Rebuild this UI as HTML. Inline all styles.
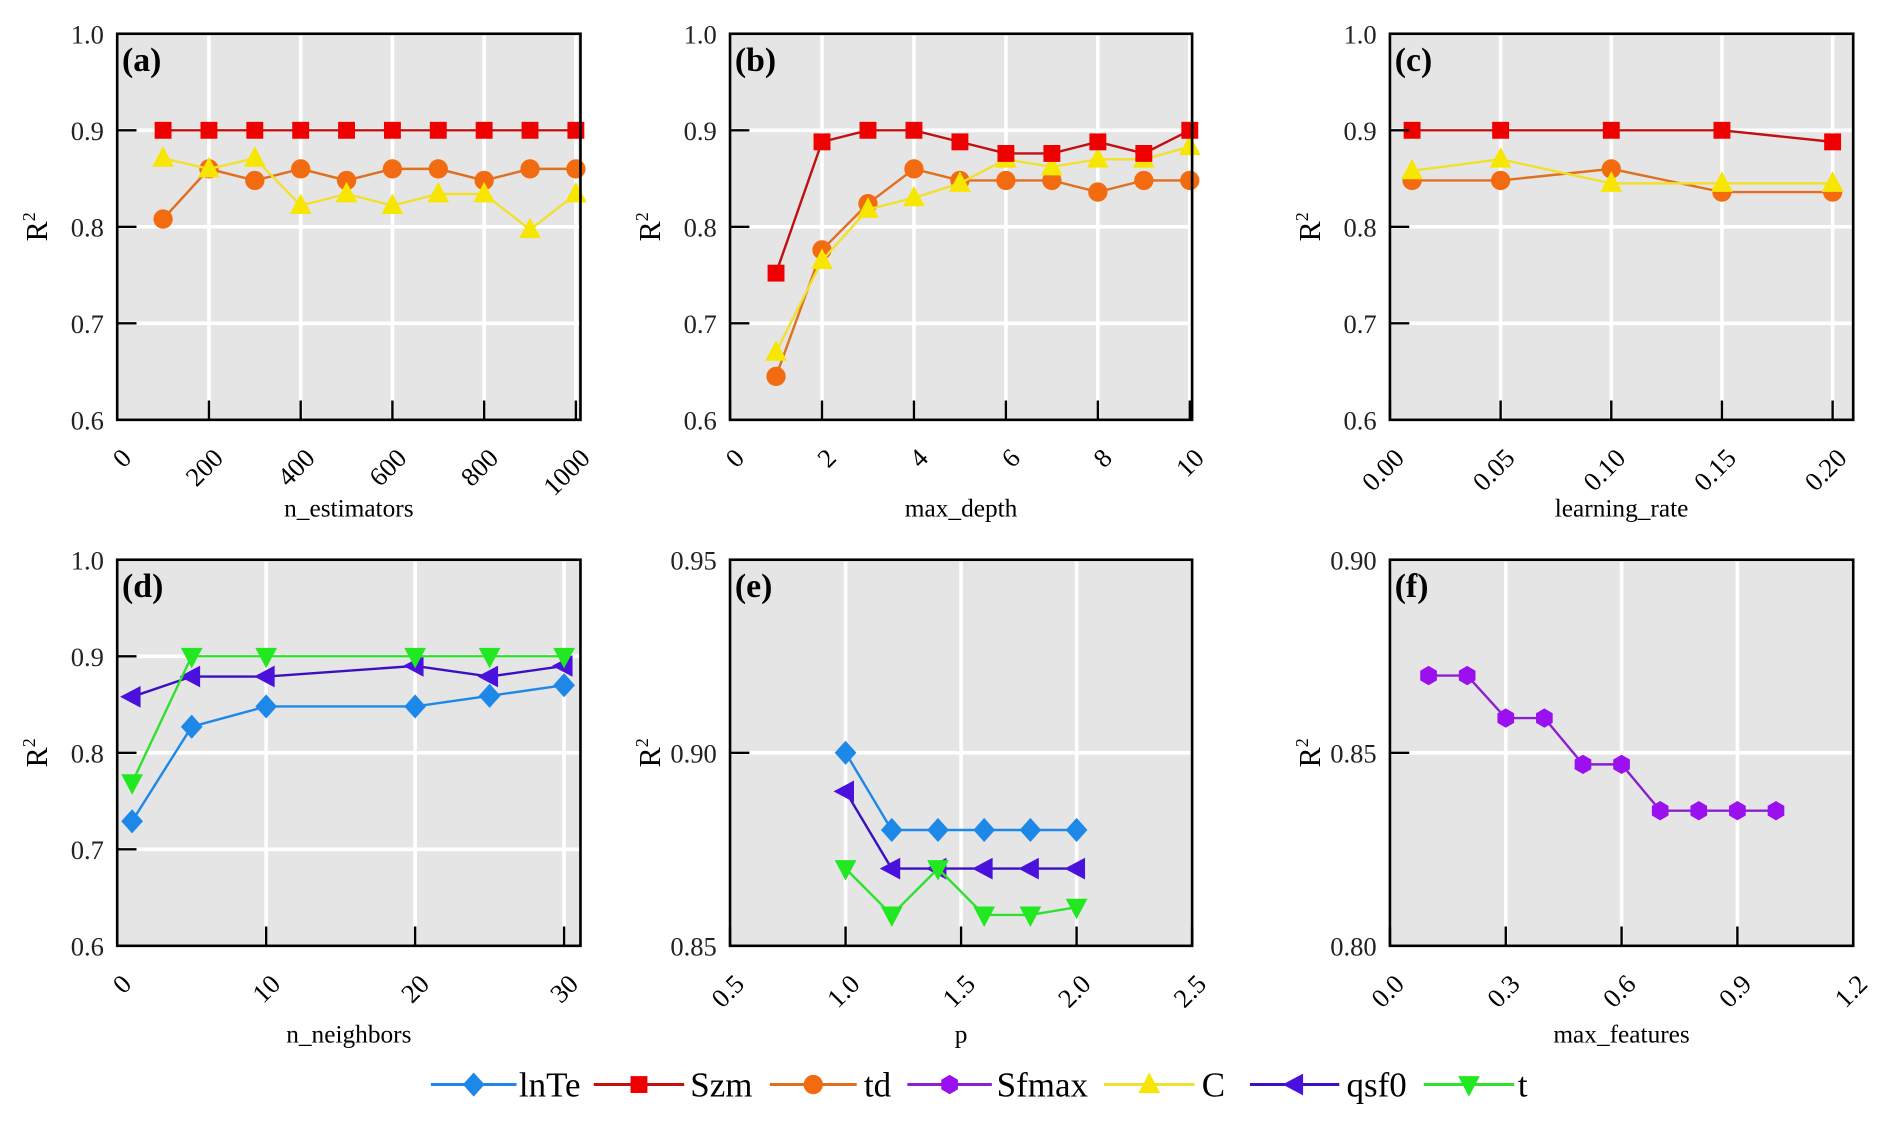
<!DOCTYPE html>
<html><head><meta charset="utf-8"><style>
html,body{margin:0;padding:0;background:#fff;}
svg{display:block;font-family:"Liberation Serif",serif;}
</style></head><body>
<svg id="fig" width="1892" height="1134" viewBox="0 0 1568 940" xmlns="http://www.w3.org/2000/svg"></svg>
<script>
// ----- data -----
const aX=[100,200,300,400,500,600,700,800,900,1000];
const aSzm=[0.9,0.9,0.9,0.9,0.9,0.9,0.9,0.9,0.9,0.9];
const aTd=[0.808,0.86,0.848,0.86,0.848,0.86,0.86,0.848,0.86,0.86];
const aC=[0.871,0.86,0.871,0.822,0.834,0.822,0.834,0.834,0.797,0.834];
const bX=[1,2,3,4,5,6,7,8,9,10];
const bSzm=[0.752,0.888,0.9,0.9,0.888,0.876,0.876,0.888,0.876,0.9];
const bTd=[0.645,0.776,0.824,0.86,0.848,0.848,0.848,0.836,0.848,0.848];
const bC=[0.67,0.765,0.818,0.83,0.845,0.87,0.862,0.87,0.87,0.883];
const cX=[0.01,0.05,0.10,0.15,0.20];
const cSzm=[0.9,0.9,0.9,0.9,0.888];
const cTd=[0.848,0.848,0.86,0.836,0.836];
const cC=[0.858,0.87,0.845,0.845,0.845];
const dX=[1,5,10,20,25,30];
const dLnTe=[0.729,0.827,0.848,0.848,0.859,0.87];
const dQsf0=[0.858,0.879,0.879,0.89,0.879,0.89];
const dT=[0.769,0.9,0.9,0.9,0.9,0.9];
const eX=[1.0,1.2,1.4,1.6,1.8,2.0];
const eLnTe=[0.9,0.88,0.88,0.88,0.88,0.88];
const eQsf0=[0.89,0.87,0.87,0.87,0.87,0.87];
const eT=[0.87,0.858,0.87,0.858,0.858,0.86];
const fX=[0.1,0.2,0.3,0.4,0.5,0.6,0.7,0.8,0.9,1.0];
const fSfmax=[0.87,0.87,0.859,0.859,0.847,0.847,0.835,0.835,0.835,0.835];
const aXTicks=[0,200,400,600,800,1000];
const bXTicks=[0,2,4,6,8,10];
const cXTicks=[0,0.05,0.10,0.15,0.20];
const dXTicks=[0,10,20,30];
const eXTicks=[0.5,1.0,1.5,2.0,2.5];
const fXTicks=[0,0.3,0.6,0.9,1.2];
const topYTicks=[0.6,0.7,0.8,0.9,1.0];
const eYTicks=[0.85,0.90,0.95];
const fYTicks=[0.80,0.85,0.90];

const COL={lnTe:'#1e88e8',Szm:'#ee0000',td:'#f26b10',Sfmax:'#9a10ee',C:'#f7e600',qsf0:'#4a10dc',t:'#22e822'};
const LCOL={lnTe:'#1e88e8',Szm:'#c01010',td:'#e07020',Sfmax:'#8a20d0',C:'#f0e030',qsf0:'#3a10c0',t:'#30e030'};
const NS='http://www.w3.org/2000/svg';
const svg=document.getElementById('fig');
function mk(tag,attrs,parent){const e=document.createElementNS(NS,tag);for(const k in attrs)e.setAttribute(k,attrs[k]);(parent||svg).appendChild(e);return e;}

function marker(g,type,cx,cy,col){
  let e;
  if(type==='square') e=mk('rect',{x:cx-7,y:cy-7,width:14,height:14,fill:col},g);
  else if(type==='circle') e=mk('circle',{cx:cx,cy:cy,r:8,fill:col},g);
  else if(type==='triup') e=mk('polygon',{points:`${cx},${cy-10} ${cx+9},${cy+7} ${cx-9},${cy+7}`,fill:col},g);
  else if(type==='tridown') e=mk('polygon',{points:`${cx},${cy+10} ${cx+9},${cy-7} ${cx-9},${cy-7}`,fill:col},g);
  else if(type==='trileft') e=mk('polygon',{points:`${cx-10},${cy} ${cx+7},${cy-9} ${cx+7},${cy+9}`,fill:col},g);
  else if(type==='diamond') e=mk('polygon',{points:`${cx},${cy-10} ${cx+9},${cy} ${cx},${cy+10} ${cx-9},${cy}`,fill:col},g);
  else if(type==='hex'){let p=[];for(let i=0;i<6;i++){const a=Math.PI/3*i+Math.PI/6;p.push((cx+8*Math.cos(a)).toFixed(1)+','+(cy+8*Math.sin(a)).toFixed(1));}e=mk('polygon',{points:p.join(' '),fill:col},g);}
  return e;
}

function panel(cfg){
  const g=mk('g',{});
  
  
  const {x0,x1,y0,y1,xmin,xmax,ymin,ymax}=cfg;
  const sx=v=>x0+(v-xmin)/(xmax-xmin)*(x1-x0);
  const sy=v=>y1-(v-ymin)/(ymax-ymin)*(y1-y0);
  const bg=mk('rect',{x:x0,y:y0,width:x1-x0,height:y1-y0,fill:'#e5e5e5'},g);
  
  
  cfg.xt.forEach(v=>{const x=sx(v);mk('line',{x1:x,x2:x,y1:y0,y2:y1,stroke:'#fff','stroke-width':3},g);});
  cfg.yt.forEach(v=>{const y=sy(v);mk('line',{x1:x0,x2:x1,y1:y,y2:y,stroke:'#fff','stroke-width':3},g);});
  cfg.series.forEach(s=>{
    const sg=mk('g',{},g);
    
    
    const pts=s.x.map((v,i)=>sx(v).toFixed(1)+','+sy(s.y[i]).toFixed(1)).join(' ');
    mk('polyline',{points:pts,fill:'none',stroke:LCOL[s.name],'stroke-width':2},sg);
    s.x.forEach((v,i)=>{const m=marker(sg,s.m,sx(v),sy(s.y[i]),COL[s.name]);
      
      });
  });
  mk('rect',{x:x0,y:y0,width:x1-x0,height:y1-y0,fill:'none',stroke:'#000','stroke-width':2.2},g);
  cfg.xt.forEach((v,i)=>{const x=sx(v);mk('line',{x1:x,x2:x,y1:y1,y2:y1-16,stroke:'#000','stroke-width':2},g);
    const tx=x+13,ty=y1+33;
    const t=mk('text',{x:tx,y:ty,'font-size':22,'text-anchor':'end',transform:`rotate(-45 ${tx} ${ty})`},g);
    t.textContent=cfg.xl[i];
    
    });
  cfg.yt.forEach((v,i)=>{const y=sy(v);mk('line',{x1:x0,x2:x0+16,y1:y,y2:y,stroke:'#000','stroke-width':2},g);
    const t=mk('text',{x:x0-11,y:y+8,'font-size':22,'text-anchor':'end',fill:'#222'},g);
    t.textContent=cfg.yl[i];
    
    });
  const lab=mk('text',{x:x0+4,y:y0+31,'font-size':28,'font-weight':'bold'},g);
  lab.textContent='('+cfg.id+')';
  
  
  const xt=mk('text',{x:(x0+x1)/2,y:y1+80,'font-size':21,'text-anchor':'middle'},g);
  xt.textContent=cfg.xtitle;
  
  
  const yx=x0-58,yy=(y0+y1)/2;
  const yt=mk('text',{x:yx,y:yy,'font-size':25,'text-anchor':'middle',transform:`rotate(-90 ${yx} ${yy})`},g);
  yt.innerHTML='R<tspan dy="-10" font-size="15">2</tspan>';
  
  
}
const f1=v=>v.toFixed(1), f2=v=>v.toFixed(2);
panel({id:'a',x0:97,x1:481,y0:28,y1:348,xmin:0,xmax:1010,ymin:0.6,ymax:1.0,xt:aXTicks,xl:aXTicks.map(String),yt:topYTicks,yl:topYTicks.map(f1),xtitle:'n_estimators',
  series:[{name:'td',x:aX,y:aTd,m:'circle'},{name:'C',x:aX,y:aC,m:'triup'},{name:'Szm',x:aX,y:aSzm,m:'square'}]});
panel({id:'b',x0:605,x1:988,y0:28,y1:348,xmin:0,xmax:10.05,ymin:0.6,ymax:1.0,xt:bXTicks,xl:bXTicks.map(String),yt:topYTicks,yl:topYTicks.map(f1),xtitle:'max_depth',
  series:[{name:'td',x:bX,y:bTd,m:'circle'},{name:'C',x:bX,y:bC,m:'triup'},{name:'Szm',x:bX,y:bSzm,m:'square'}]});
panel({id:'c',x0:1152,x1:1536,y0:28,y1:348,xmin:0,xmax:0.2093,ymin:0.6,ymax:1.0,xt:cXTicks,xl:cXTicks.map(f2),yt:topYTicks,yl:topYTicks.map(f1),xtitle:'learning_rate',
  series:[{name:'td',x:cX,y:cTd,m:'circle'},{name:'C',x:cX,y:cC,m:'triup'},{name:'Szm',x:cX,y:cSzm,m:'square'}]});
panel({id:'d',x0:97,x1:481,y0:464,y1:784,xmin:0,xmax:31.1,ymin:0.6,ymax:1.0,xt:dXTicks,xl:dXTicks.map(String),yt:topYTicks,yl:topYTicks.map(f1),xtitle:'n_neighbors',
  series:[{name:'lnTe',x:dX,y:dLnTe,m:'diamond'},{name:'qsf0',x:dX,y:dQsf0,m:'trileft'},{name:'t',x:dX,y:dT,m:'tridown'}]});
panel({id:'e',x0:605,x1:988,y0:464,y1:784,xmin:0.5,xmax:2.5,ymin:0.85,ymax:0.95,xt:eXTicks,xl:eXTicks.map(f1),yt:eYTicks,yl:eYTicks.map(f2),xtitle:'p',
  series:[{name:'lnTe',x:eX,y:eLnTe,m:'diamond'},{name:'qsf0',x:eX,y:eQsf0,m:'trileft'},{name:'t',x:eX,y:eT,m:'tridown'}]});
panel({id:'f',x0:1152,x1:1536,y0:464,y1:784,xmin:0,xmax:1.2,ymin:0.80,ymax:0.90,xt:fXTicks,xl:fXTicks.map(f1),yt:fYTicks,yl:fYTicks.map(f2),xtitle:'max_features',
  series:[{name:'Sfmax',x:fX,y:fSfmax,m:'hex'}]});

const legItems=[['lnTe','diamond',357,428,430],['Szm','square',492,567,572],['td','circle',638,710,716],['Sfmax','hex',752,822,826],['C','triup',915,990,996],['qsf0','trileft',1036,1110,1116],['t','tridown',1180,1255,1258]];
const lg=mk('g',{});


legItems.forEach(it=>{
  const e=mk('g',{},lg);
  
  
  mk('line',{x1:it[2],x2:it[3],y1:899,y2:899,stroke:LCOL[it[0]],'stroke-width':2.5},e);
  marker(e,it[1],(it[2]+it[3])/2,899,COL[it[0]]);
  const t=mk('text',{x:it[4],y:909,'font-size':29},e);
  t.textContent=it[0];
});
</script>
</body></html>
